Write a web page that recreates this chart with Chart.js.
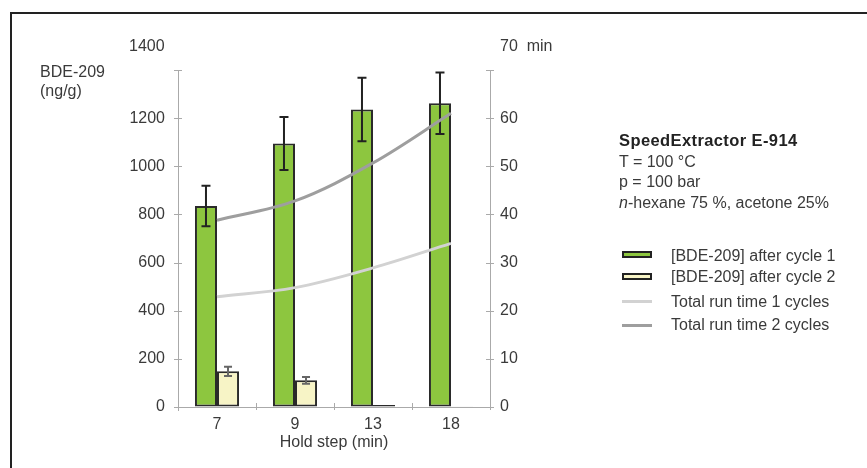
<!DOCTYPE html>
<html>
<head>
<meta charset="utf-8">
<script src="https://cdn.jsdelivr.net/npm/chart.js@4"></script>
<style>
  html, body { margin: 0; padding: 0; background: #fff; }
  #wrap { position: relative; width: 867px; height: 468px; overflow: hidden; font-family: "Liberation Sans", Arial, sans-serif; color: #3a3a3a; }
  #c { position: absolute; left: 0; top: 0; }
  #frame { position: absolute; left: 10px; top: 12px; width: 870px; height: 470px; border-top: 2px solid #222; border-left: 2px solid #222; }
  .t { position: absolute; font-size: 16px; line-height: 20px; white-space: nowrap; }
  .lg { position: absolute; left: 622px; width: 30px; box-sizing: border-box; }
</style>
</head>
<body>
<div id="wrap">
  <div id="frame"></div>
  <canvas id="c" width="867" height="468"></canvas>
  <div class="t" style="left:40px; top:62px;">BDE-209</div>
  <div class="t" style="left:40px; top:81px;">(ng/g)</div>
  <div class="t" style="left:129px; top:36px;">1400</div>
  <div class="t" style="left:500px; top:36px;">70&nbsp;&nbsp;min</div>

  <div class="t" style="left:619px; top:130px; font-weight:bold; letter-spacing:0.4px; font-size:16.5px; color:#222;">SpeedExtractor E-914</div>
  <div class="t" style="left:619px; top:152px;">T = 100 °C</div>
  <div class="t" style="left:619px; top:172px;">p = 100 bar</div>
  <div class="t" style="left:619px; top:193px;"><i>n</i>-hexane 75 %, acetone 25%</div>

  <div class="lg" style="top:251px; height:7px; background:#8dc63f; border:2px solid #222;"></div>
  <div class="t" style="left:671px; top:246px;">[BDE-209] after cycle 1</div>
  <div class="lg" style="top:273px; height:7px; background:#f7f4c6; border:2px solid #222;"></div>
  <div class="t" style="left:671px; top:267px;">[BDE-209] after cycle 2</div>
  <div class="lg" style="top:300px; height:2.5px; background:#d2d2d2;"></div>
  <div class="t" style="left:671px; top:292px;">Total run time 1 cycles</div>
  <div class="lg" style="top:324px; height:2.5px; background:#9e9e9e;"></div>
  <div class="t" style="left:671px; top:315px;">Total run time 2 cycles</div>
</div>
<script>
const categories = ['7', '9', '13', '18'];
const cycle1Values = [835, 1095, 1236, 1262];
const cycle1Errors = [84, 110, 132, 128];
const cycle2Values = [148, 111, 8, 1];
const cycle2Errors = [19, 14, 0, 0];
const runTime1 = [22.9, 24.8, 28.9, 34.0];
const runTime2 = [38.8, 42.8, 50.7, 61.0];
const leftTicksMax = 1400;
const rightTicksMax = 70;

const errorBars = {
  id: 'errorBars',
  afterDatasetDraw(chart, args) {
    const ds = chart.data.datasets[args.index];
    if (!ds.errors) return;
    const meta = args.meta;
    const y = chart.scales[ds.yAxisID || 'y'];
    const ctx = chart.ctx;
    ctx.save();
    ctx.strokeStyle = ds.errorColor;
    ctx.lineWidth = 2;
    meta.data.forEach((bar, i) => {
      const e = ds.errors[i];
      if (!e) return;
      const v = ds.data[i];
      const yt = y.getPixelForValue(v + e);
      const yb = y.getPixelForValue(v - e);
      const x = bar.x;
      const w = ds.capHalf;
      ctx.beginPath();
      ctx.moveTo(x, yt); ctx.lineTo(x, yb);
      ctx.moveTo(x - w, yt); ctx.lineTo(x + w, yt);
      ctx.moveTo(x - w, yb); ctx.lineTo(x + w, yb);
      ctx.stroke();
    });
    ctx.restore();
  }
};

const crossTicks = {
  id: 'crossTicks',
  afterDraw(chart) {
    const ctx = chart.ctx;
    const ya = chart.scales.y, yb = chart.scales.y2, xs = chart.scales.x;
    ctx.save();
    ctx.strokeStyle = '#aaaaaa';
    ctx.lineWidth = 1;
    ctx.beginPath();
    [ya, yb].forEach(s => {
      const ax = s === ya ? s.right : s.left;
      s.ticks.forEach(t => {
        const py = Math.round(s.getPixelForValue(t.value)) + 0.5;
        ctx.moveTo(ax - 4, py); ctx.lineTo(ax + 4, py);
      });
    });
    const n = categories.length;
    const step = (xs.right - xs.left) / n;
    for (let i = 0; i <= n; i++) {
      const px = Math.round(xs.left + i * step) + 0.5;
      ctx.moveTo(px, xs.top - 4); ctx.lineTo(px, xs.top + 3);
    }
    ctx.moveTo(ya.right + 0.5, ya.bottom); ctx.lineTo(ya.right + 0.5, ya.bottom + 4);
    ctx.stroke();
    ctx.restore();
  }
};

const font = { family: '"Liberation Sans", Arial, sans-serif', size: 16 };

new Chart(document.getElementById('c'), {
  type: 'bar',
  data: {
    labels: categories,
    datasets: [
      { type: 'line', label: 'Total run time 1 cycles', data: runTime1, yAxisID: 'y2', borderColor: '#d2d2d2', borderWidth: 3, pointRadius: 0, tension: 0.35, order: 0 },
      { type: 'line', label: 'Total run time 2 cycles', data: runTime2, yAxisID: 'y2', borderColor: '#9e9e9e', borderWidth: 3, pointRadius: 0, tension: 0.35, order: 0 },
      { label: '[BDE-209] after cycle 1', data: cycle1Values, errors: cycle1Errors, errorColor: '#222', capHalf: 4.5, yAxisID: 'y', backgroundColor: '#8dc63f', borderColor: '#2a2a2a', borderWidth: 2, borderSkipped: false, order: 1 },
      { label: '[BDE-209] after cycle 2', data: cycle2Values, errors: cycle2Errors, errorColor: '#666', capHalf: 4, yAxisID: 'y', backgroundColor: '#f7f4c6', borderColor: ['#2a2a2a', '#2a2a2a', '#2a2a2a', '#aaa'], borderWidth: 2, borderSkipped: false, order: 2 }
    ]
  },
  options: {
    responsive: false,
    devicePixelRatio: 1,
    animation: false,
    layout: { padding: { left: 0, right: 0, top: 70, bottom: 0 } },
    plugins: { legend: { display: false }, tooltip: { enabled: false } },
    datasets: { bar: { categoryPercentage: 0.565, barPercentage: 1 } },
    scales: {
      x: {
        offset: true,
        grid: { display: true, drawOnChartArea: false, drawTicks: false, color: 'rgba(0,0,0,0)' },
        border: { color: '#aaaaaa', width: 1 },
        ticks: { color: '#3a3a3a', font: font, padding: 8 },
        title: { display: true, text: 'Hold step (min)', color: '#3a3a3a', font: font, padding: { top: 0, bottom: 16 } },
        afterFit(s) { s.height = 61; }
      },
      y: {
        position: 'left', min: 0, max: leftTicksMax,
        grid: { drawOnChartArea: false, drawTicks: false, color: 'rgba(0,0,0,0)' },
        border: { color: '#aaaaaa', width: 1 },
        ticks: { stepSize: 200, color: '#3a3a3a', font: font, padding: 13, callback: v => v === leftTicksMax ? '' : v },
        afterFit(s) { s.width = 178; }
      },
      y2: {
        position: 'right', min: 0, max: rightTicksMax,
        grid: { drawOnChartArea: false, drawTicks: false, color: 'rgba(0,0,0,0)' },
        border: { color: '#aaaaaa', width: 1 },
        ticks: { stepSize: 10, color: '#3a3a3a', font: font, padding: 10, callback: v => v === rightTicksMax ? '' : v },
        afterFit(s) { s.width = 377; }
      }
    }
  },
  plugins: [errorBars, crossTicks]
});
</script>
</body>
</html>
